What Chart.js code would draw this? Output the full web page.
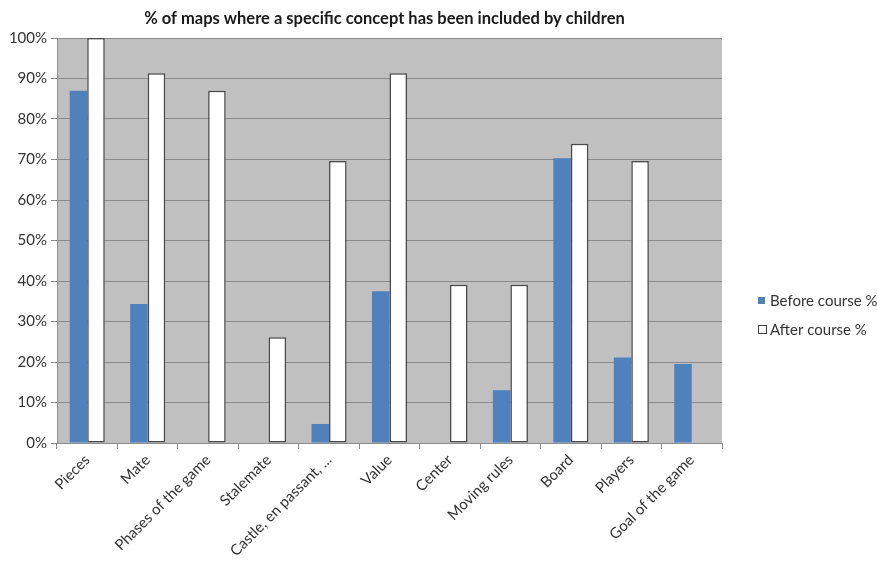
<!DOCTYPE html>
<html>
<head>
  <title>Concepts in children's maps</title>
  <script src="https://cdn.jsdelivr.net/npm/chart.js@4.4.0/dist/chart.umd.min.js"></script>
  <style>
    html, body { margin: 0; padding: 0; background: #fff; overflow: hidden; }
    .chart-box { position: relative; width: 877px; height: 561px; }
  </style>
</head>
<body>
<div class="chart-box">
  <canvas id="chartCanvas" width="877" height="561"></canvas>
</div>
<script>
  // categories and values (percent)
  const categories = ['Pieces', 'Mate', 'Phases of the game', 'Stalemate', 'Castle, en passant, ...',
    'Value', 'Center', 'Moving rules', 'Board', 'Players', 'Goal of the game'];
  const beforeCourse = [87, 34.3, 0, 0, 4.7, 37.5, 0, 13, 70.3, 21.1, 19.5];
  const afterCourse  = [100, 91.3, 87, 26.1, 69.6, 91.3, 39.1, 39.1, 73.9, 69.6, 0];
  const yTicks = [0, 10, 20, 30, 40, 50, 60, 70, 80, 90, 100];

  const titleText = '% of maps where a specific concept has been included by children';
  const seriesNames = ['Before course %', 'After course %'];
  const blue = '#4f81bd';
  const font = 'Lato, "Open Sans", sans-serif';

  // grey plot background, title over the plot, legend on the right
  const decorations = {
    id: 'decorations',
    beforeDraw(chart) {
      const { ctx, chartArea: a } = chart;
      ctx.save();
      ctx.fillStyle = '#c0c0c0';
      ctx.fillRect(a.left, a.top, a.right - a.left, a.bottom - a.top);
      ctx.restore();
    },
    afterDraw(chart) {
      const { ctx, chartArea: a } = chart;
      ctx.save();
      ctx.fillStyle = '#1a1a1a';
      ctx.font = 'bold 16.5px ' + font;
      ctx.textAlign = 'center';
      ctx.textBaseline = 'middle';
      ctx.fillText(titleText, (a.left + a.right) / 2 - 5, 19);

      ctx.font = '15px ' + font;
      ctx.textAlign = 'left';
      ctx.fillStyle = blue;
      ctx.fillRect(758, 297, 7, 7);
      ctx.fillStyle = '#fff';
      ctx.fillRect(758, 325, 8, 8);
      ctx.strokeStyle = '#404040';
      ctx.lineWidth = 1;
      ctx.strokeRect(758.5, 325.5, 8, 8);
      ctx.fillStyle = '#333';
      ctx.fillText(seriesNames[0], 770, 301);
      ctx.fillText(seriesNames[1], 770, 330);
      ctx.restore();
    }
  };

  new Chart(document.getElementById('chartCanvas'), {
    type: 'bar',
    data: {
      labels: categories,
      datasets: [
        {
          label: seriesNames[0],
          data: beforeCourse,
          backgroundColor: blue,
          borderWidth: 0,
          barPercentage: 1,
          categoryPercentage: 0.58
        },
        {
          label: seriesNames[1],
          data: afterCourse,
          backgroundColor: '#ffffff',
          borderColor: '#4a4a4a',
          borderWidth: c => (c.raw ? 1.5 : 0),
          borderSkipped: false,
          barPercentage: 1,
          categoryPercentage: 0.58
        }
      ]
    },
    options: {
      responsive: false,
      animation: false,
      devicePixelRatio: 1,
      layout: { padding: { top: 38, right: 155, left: 0, bottom: 0 } },
      plugins: {
        legend: { display: false },
        title: { display: false },
        tooltip: { enabled: false }
      },
      scales: {
        x: {
          afterFit: s => { s.height = 118; },
          grid: { drawOnChartArea: false, drawTicks: true, tickLength: 6, color: '#8c8c8c', offset: true },
          border: { color: '#8c8c8c' },
          ticks: {
            color: '#333',
            font: { family: font, size: 15 },
            minRotation: 45,
            maxRotation: 45,
            autoSkip: false,
            padding: 2
          }
        },
        y: {
          min: 0,
          max: 100,
          afterFit: s => { s.width = 57; },
          afterBuildTicks: s => { s.ticks = yTicks.map(v => ({ value: v })); },
          grid: { color: '#8a8a8a', lineWidth: 1, tickLength: 6 },
          border: { color: '#8c8c8c' },
          ticks: {
            color: '#333',
            font: { family: font, size: 15 },
            padding: 4,
            callback: v => v + '%'
          }
        }
      }
    },
    plugins: [decorations]
  });
</script>
</body>
</html>
